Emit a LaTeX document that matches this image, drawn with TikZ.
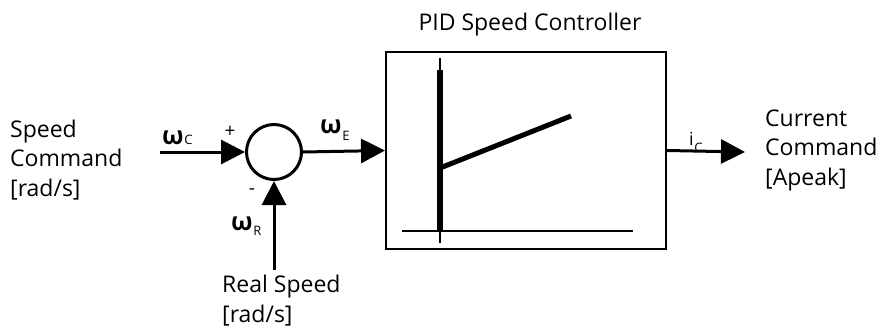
\documentclass[tikz,border=0pt]{standalone}
\usepackage{fontspec}
\setmainfont{Open Sans}
\usetikzlibrary{arrows.meta}
\newcommand\symsub[3]{{\fontsize{25}{25}\selectfont\bfseries #1}\kern0.5pt\raisebox{#3}{\fontsize{13}{13}\selectfont #2}}
\begin{document}
\begin{tikzpicture}[x=1pt,y=-1pt,
  lbl/.style={font=\fontsize{23}{29.5}\selectfont, align=left, inner sep=0pt, anchor=base west},
  sym/.style={inner sep=0pt, anchor=base west},
  sgn/.style={inner sep=0pt, font=\fontsize{19}{19}\selectfont},
  conn/.style={line width=3pt, -{Triangle[length=24pt,width=24pt]}},
  blockbox/.style={draw, line width=2pt, minimum width=280, minimum height=197, inner sep=0pt},
  sumcirc/.style={draw, circle, line width=3pt, minimum size=55, inner sep=0pt},
  axisline/.style={line width=2.5pt},
]
\useasboundingbox (0,0) rectangle (882,332);

% texts (base anchor = baseline of the last line)
\node[lbl] (spd) at (10,196) {Speed\\Command\\{[}rad/s{]}};
\node[lbl] (cur) at (765,185) {Current\\Command\\{[}Apeak{]}};
\node[lbl] (real) at (222,322) {Real Speed\\{[}rad/s{]}};
\node[font=\fontsize{23}{29}\selectfont, inner sep=0pt, anchor=base] (title) at (530,30) {PID Speed Controller};

% blocks
\node[sumcirc] (sum) at (274,152) {};
\node[blockbox] (pid) at (526,150.5) {};

% free ends
\coordinate (cin) at (160,152);
\coordinate (rin) at (274,270);
\coordinate (cout) at (745,152);

% connectors
\draw[conn] (cin) -- (sum.west);
\draw[conn] (rin) -- (sum.south);
\draw[conn] (sum.east) -- (pid.west);
\draw[conn] (pid.east) -- (cout);

% signal labels
\node[sym] (wc) at (162,144) {\symsub{ω}{C}{0pt}};
\node[sym] (wr) at (231,230) {\symsub{ω}{R}{-5pt}};
\node[sym] (we) at (320,133) {\symsub{ω}{E}{-7pt}};
\node[sym] (ic) at (689,145) {{\fontsize{18}{18}\selectfont i}\kern0.5pt\raisebox{-7pt}{\fontsize{13}{13}\selectfont C}};
\node[sgn] (plus) at (230,132) {+};
\node[sgn] (minus) at (252,192) {-};

% graph inside controller
\draw[axisline] (440,58) -- (440,243);
\draw[line width=6pt] (440,70) -- (440,231);
\draw[axisline] (402,231) -- (633,231);
\draw[line width=5pt] (440,168) -- (571,116);
\end{tikzpicture}
\end{document}
